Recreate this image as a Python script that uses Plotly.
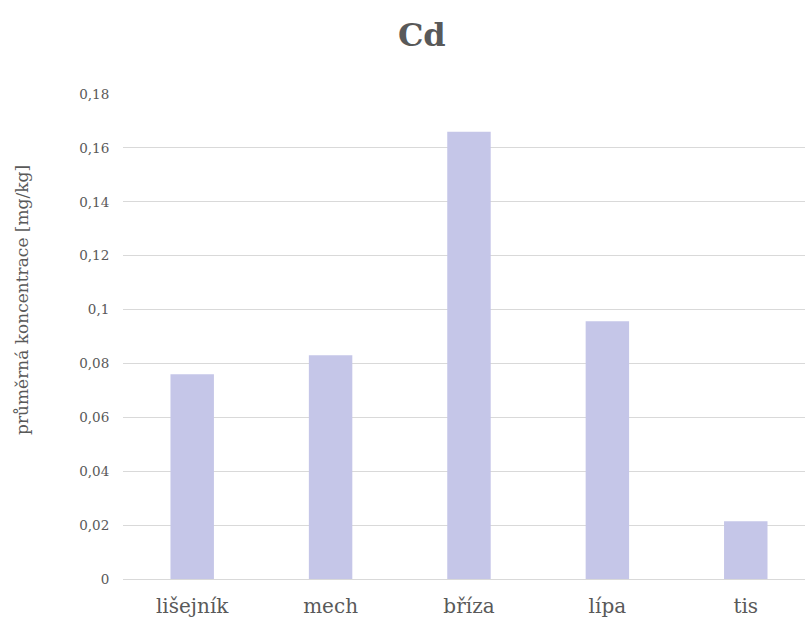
import plotly.graph_objects as go

categories = ["lišejník", "mech", "bříza", "lípa", "tis"]
values = [0.076, 0.083, 0.166, 0.0957, 0.0214]
y_ticks = [0, 0.02, 0.04, 0.06, 0.08, 0.1, 0.12, 0.14, 0.16, 0.18]
y_tick_labels = ["0", "0,02", "0,04", "0,06", "0,08", "0,1", "0,12", "0,14", "0,16", "0,18"]

FONT = "DejaVu Serif"
TEXT = "#595959"

fig = go.Figure(
    go.Bar(
        x=categories,
        y=values,
        marker=dict(color="#c5c6e8", line=dict(width=0)),
        width=0.314,
    )
)

fig.update_layout(
    width=805,
    height=617,
    margin=dict(l=123, r=0, t=94, b=38),
    paper_bgcolor="white",
    plot_bgcolor="white",
    showlegend=False,
    font=dict(family=FONT, color=TEXT),
    title=dict(
        text="<b>Cd</b>",
        font=dict(family=FONT, size=32, color=TEXT),
        x=0.524,
        xref="container",
        xanchor="center",
        y=1 - 35 / 617,
        yref="container",
        yanchor="middle",
    ),
    xaxis=dict(
        range=[-0.5, 4.428],
        showgrid=False,
        showline=False,
        zeroline=False,
        ticks="outside",
        ticklen=9,
        tickcolor="rgba(0,0,0,0)",
        tickfont=dict(family=FONT, size=20, color=TEXT),
    ),
    yaxis=dict(
        range=[0, 0.18],
        tickvals=y_ticks,
        ticktext=y_tick_labels,
        showgrid=True,
        gridcolor="#d9d9d9",
        gridwidth=1,
        zeroline=True,
        zerolinecolor="#d9d9d9",
        zerolinewidth=1,
        showline=False,
        ticks="outside",
        ticklen=10,
        tickcolor="rgba(0,0,0,0)",
        tickfont=dict(family=FONT, size=13.5, color=TEXT),
    ),
    annotations=[
        dict(
            text="průměrná koncentrace [mg/kg]",
            xref="paper",
            yref="paper",
            x=(22 - 123) / 682,
            y=(579 - 300) / 485,
            xanchor="center",
            yanchor="middle",
            textangle=-90,
            showarrow=False,
            font=dict(family=FONT, size=17, color=TEXT),
        )
    ],
)

fig.write_html("out.html")
